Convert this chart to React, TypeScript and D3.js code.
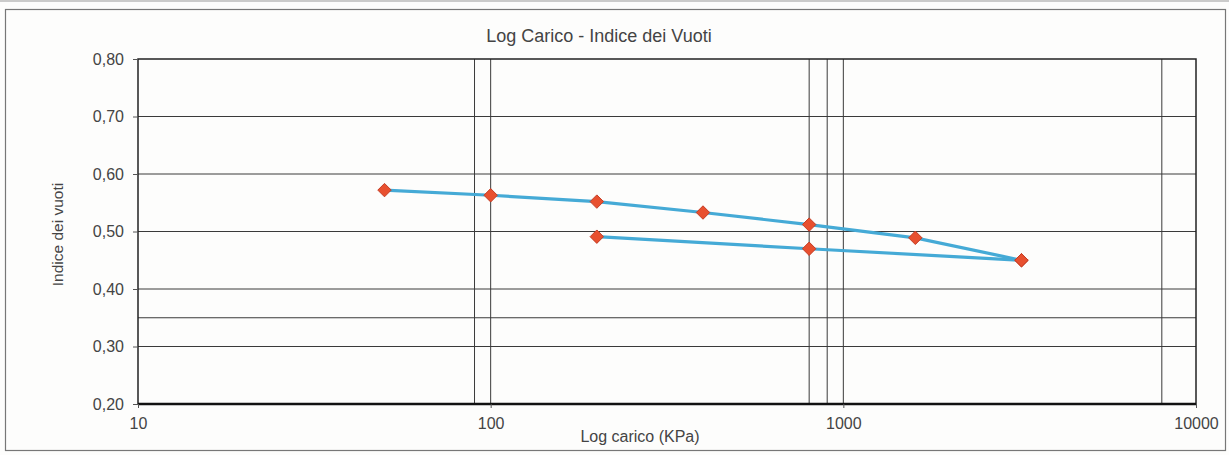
import React, { useEffect, useRef } from "react"
import * as d3 from "d3"

// carico (KPa) / indice dei vuoti
const loadKPa = [50, 100, 200, 400, 800, 1600, 3200]
const loadVoid = [0.572, 0.563, 0.552, 0.533, 0.512, 0.489, 0.45]
const unloadKPa = [3200, 800, 200]
const unloadVoid = [0.45, 0.47, 0.491]

const xTicks = [10, 100, 1000, 10000]
const yTicks = [0.2, 0.3, 0.4, 0.5, 0.6, 0.7, 0.8]
const xGrid = [90, 100, 800, 900, 1000, 8000]
const yGrid = [0.3, 0.35, 0.4, 0.5, 0.6, 0.7]

const W = 1229
const H = 455

const App: React.FC = () => {
  const svgRef = useRef<SVGSVGElement | null>(null)

  useEffect(() => {
    const svg = d3.select(svgRef.current)
    svg.selectAll("*").remove()

    const margin = { top: 59, right: 33, bottom: 51, left: 138 }
    const x = d3.scaleLog().domain([10, 10000]).range([margin.left, W - margin.right])
    const y = d3.scaleLinear().domain([0.2, 0.8]).range([H - margin.bottom, margin.top])
    const font = "'Liberation Sans', Arial, sans-serif"

    svg.append("rect").attr("width", W).attr("height", H).attr("fill", "#fdfdfc")
    // outer frame
    svg.append("line").attr("x1", 0).attr("x2", W).attr("y1", 1).attr("y2", 1).attr("stroke", "#999")
    svg.append("rect")
      .attr("x", 5.5).attr("y", 9.5).attr("width", W - 9).attr("height", H - 14)
      .attr("fill", "none").attr("stroke", "#777").attr("stroke-width", 1.2)

    // grid
    svg.append("g").selectAll("line").data(yGrid).enter().append("line")
      .attr("x1", x(10)).attr("x2", x(10000))
      .attr("y1", (d) => y(d)).attr("y2", (d) => y(d))
      .attr("stroke", "#3a3a3a").attr("stroke-width", 1)
    svg.append("g").selectAll("line").data(xGrid).enter().append("line")
      .attr("x1", (d) => x(d)).attr("x2", (d) => x(d))
      .attr("y1", y(0.8)).attr("y2", y(0.2))
      .attr("stroke", "#3a3a3a").attr("stroke-width", 1)

    // plot border
    svg.append("rect")
      .attr("x", x(10)).attr("y", y(0.8))
      .attr("width", x(10000) - x(10)).attr("height", y(0.2) - y(0.8))
      .attr("fill", "none").attr("stroke", "#222").attr("stroke-width", 1.5)
    svg.append("line").attr("x1", x(10)).attr("x2", x(10000)).attr("y1", y(0.2)).attr("y2", y(0.2))
      .attr("stroke", "#111").attr("stroke-width", 2.5)

    // axes
    const yAxis = svg.append("g").attr("transform", `translate(${x(10)},0)`)
      .call(d3.axisLeft(y).tickValues(yTicks).tickSize(5).tickPadding(9)
        .tickFormat((d) => d3.format(".2f")(d as number).replace(".", ",")))
    const xAxis = svg.append("g").attr("transform", `translate(0,${y(0.2)})`)
      .call(d3.axisBottom(x).tickValues(xTicks).tickSize(4).tickPadding(10)
        .tickFormat((d) => String(d)))
    for (const a of [yAxis, xAxis]) {
      a.select(".domain").remove()
      a.selectAll("line").attr("stroke", "#555")
      a.selectAll("text").attr("fill", "#444").attr("font-family", font).attr("font-size", 16)
    }

    // series
    const line = d3.line<[number, number]>().x((d) => x(d[0])).y((d) => y(d[1]))
    const seriesList = [
      loadKPa.map((k, i) => [k, loadVoid[i]] as [number, number]),
      unloadKPa.map((k, i) => [k, unloadVoid[i]] as [number, number]),
    ]
    svg.append("g").selectAll("path").data(seriesList).enter().append("path")
      .attr("d", (d) => line(d))
      .attr("fill", "none").attr("stroke", "#45aad6").attr("stroke-width", 3.2)
      .attr("stroke-linejoin", "round")

    const diamond = d3.symbol().type(d3.symbolDiamond2).size(115)
    svg.append("g").selectAll("path").data(seriesList.flat()).enter().append("path")
      .attr("d", diamond)
      .attr("transform", (d) => `translate(${x(d[0])},${y(d[1])})`)
      .attr("fill", "#e8502f").attr("stroke", "#c43d25").attr("stroke-width", 1)

    // titles
    svg.append("text").attr("x", 599).attr("y", 42).attr("text-anchor", "middle")
      .attr("font-family", font).attr("font-size", 18).attr("fill", "#444")
      .text("Log Carico - Indice dei Vuoti")
    svg.append("text").attr("x", 640).attr("y", 442).attr("text-anchor", "middle")
      .attr("font-family", font).attr("font-size", 16).attr("fill", "#444")
      .text("Log carico (KPa)")
    svg.append("text")
      .attr("transform", `translate(63,${(y(0.8) + y(0.2)) / 2 + 3}) rotate(-90)`)
      .attr("text-anchor", "middle")
      .attr("font-family", font).attr("font-size", 15.5).attr("fill", "#444")
      .text("Indice dei vuoti")
  }, [])

  return (
    <div style={{ position: "absolute", left: 0, top: 0 }}>
      <svg ref={svgRef} width={W} height={H} style={{ display: "block" }}></svg>
    </div>
  )
}

export default App
